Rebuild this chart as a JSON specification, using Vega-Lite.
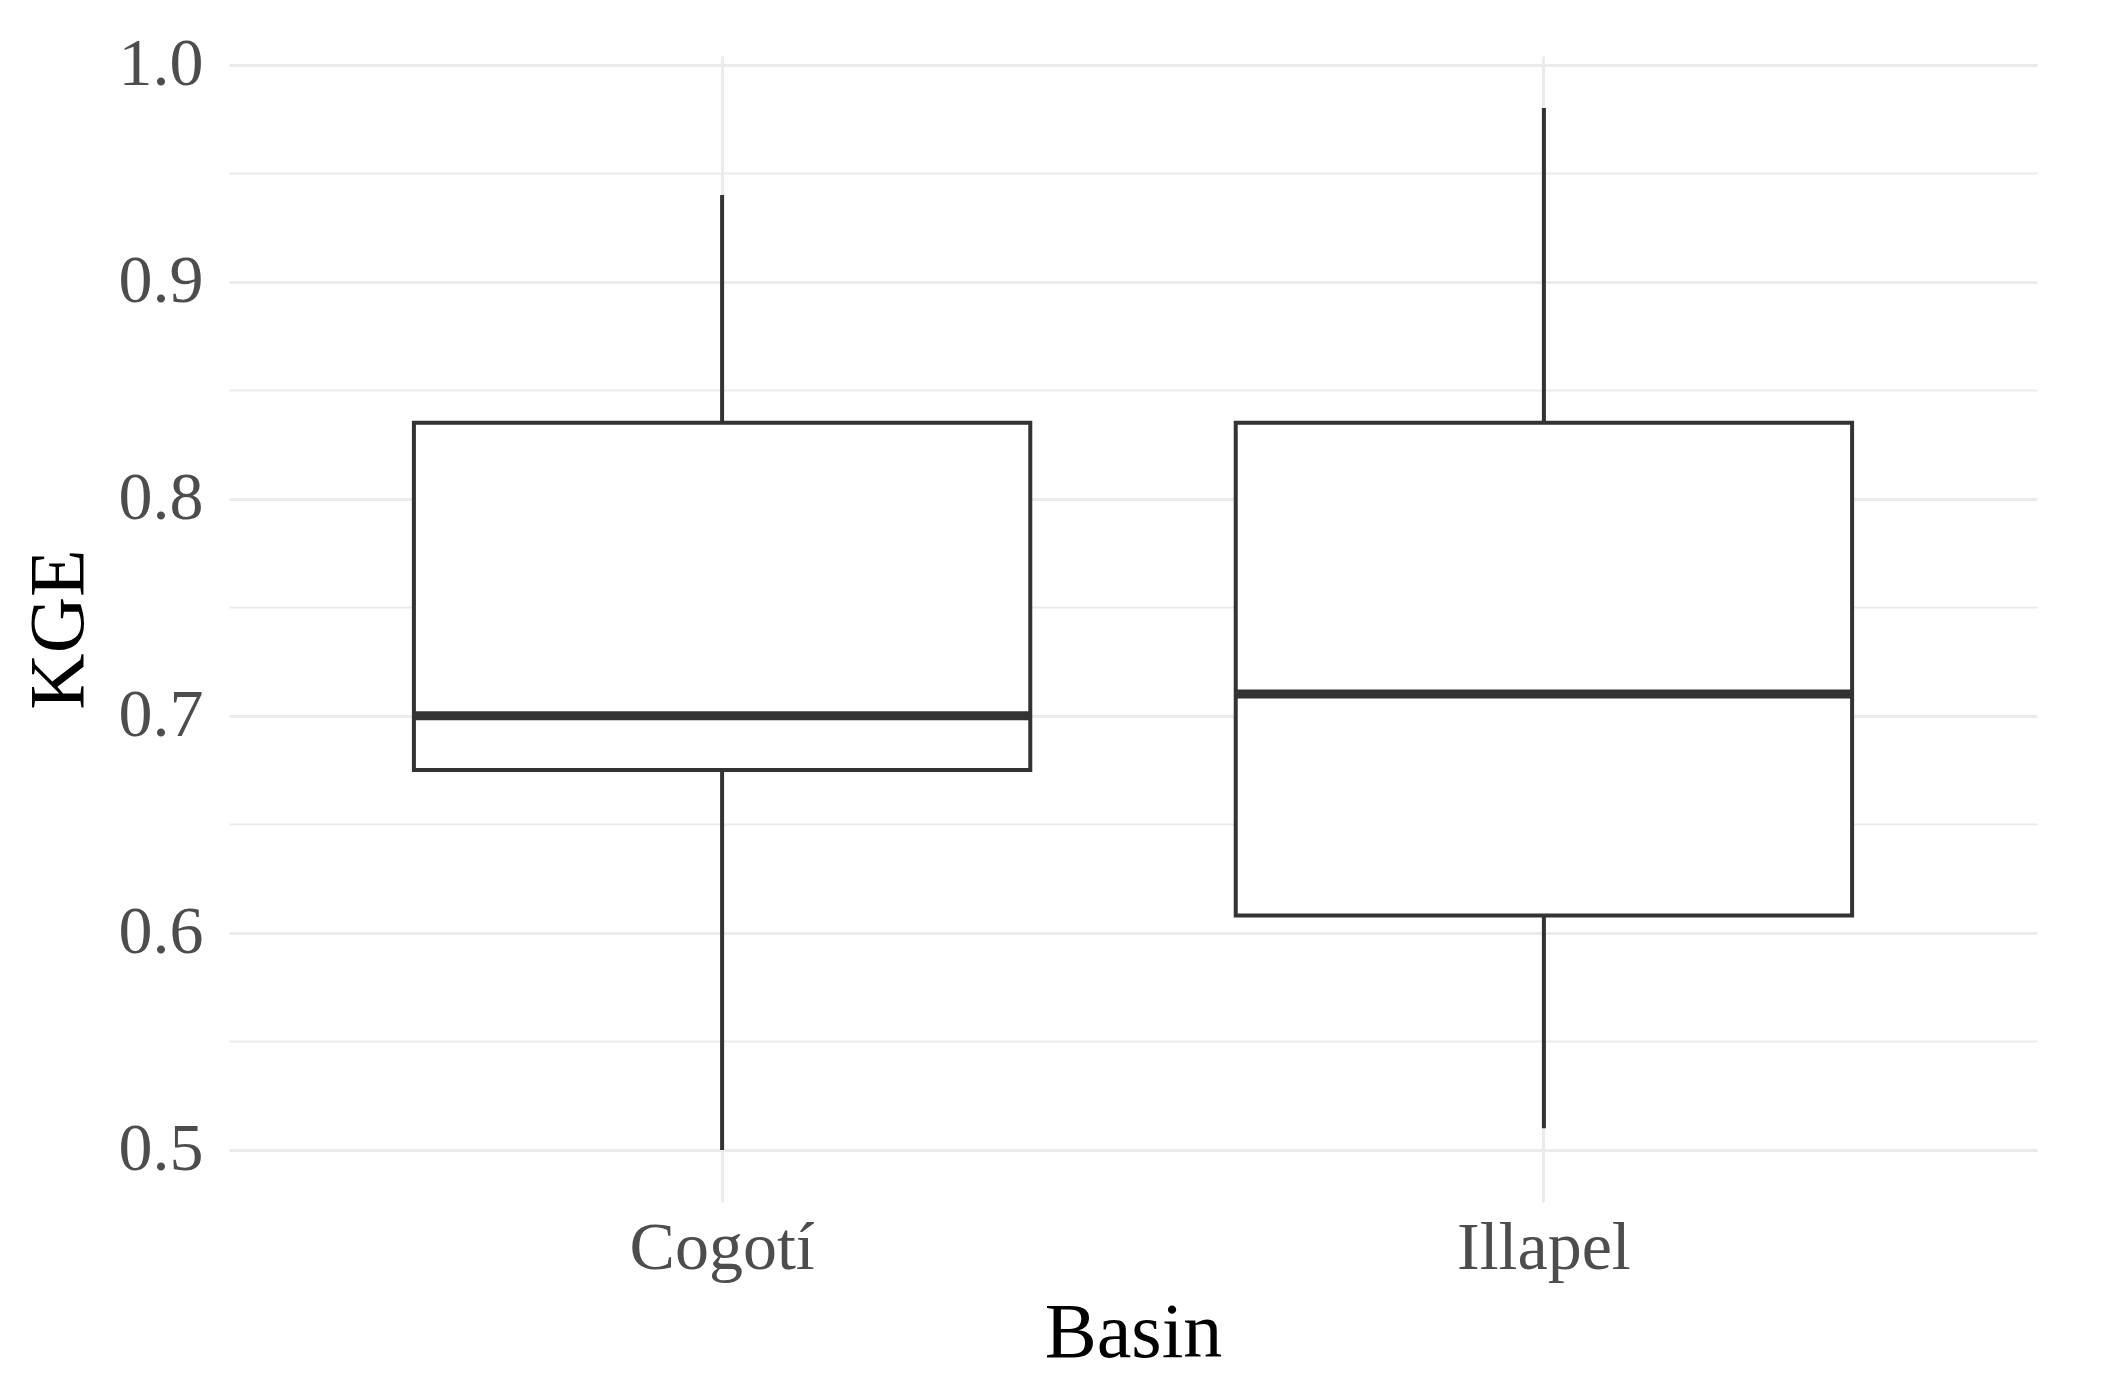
{
  "$schema": "https://vega.github.io/schema/vega-lite/v6.json",
  "autosize": {"type": "none"},
  "width": 1808,
  "height": 1146,
  "padding": {"left": 229, "top": 56, "right": 80, "bottom": 181},
  "background": "white",
  "config": {
    "view": {"stroke": null},
    "font": "Liberation Serif"
  },
  "data": {
    "values": [
      {"Basin": "Cogotí", "lower": 0.5, "q1": 0.675, "median": 0.70, "q3": 0.835, "upper": 0.94},
      {"Basin": "Illapel", "lower": 0.51, "q1": 0.608, "median": 0.71, "q3": 0.835, "upper": 0.98}
    ]
  },
  "encoding": {
    "x": {
      "field": "Basin",
      "type": "nominal",
      "sort": ["Cogotí", "Illapel"],
      "scale": {"type": "band", "paddingInner": 0.25, "paddingOuter": 0.225},
      "axis": {
        "title": "Basin",
        "titleFont": "Liberation Serif",
        "titleFontSize": 78,
        "titleFontWeight": "normal",
        "titleColor": "#000000",
        "titlePadding": 12,
        "labelFont": "Liberation Serif",
        "labelFontSize": 68,
        "labelColor": "#4d4d4d",
        "labelPadding": 12,
        "labelAngle": 0,
        "labelLimit": 0,
        "ticks": false,
        "domain": false,
        "grid": true,
        "gridColor": "#ebebeb",
        "gridWidth": 3,
        "bandPosition": 0.5
      }
    }
  },
  "layer": [
    {
      "mark": {"type": "rule", "color": "#333333", "strokeWidth": 4},
      "encoding": {
        "y": {
          "field": "lower",
          "type": "quantitative",
          "scale": {"domain": [0.476, 1.004], "nice": false, "zero": false},
          "axis": {
            "title": "KGE",
            "titleFont": "Liberation Serif",
            "titleFontSize": 78,
            "titleFontWeight": "normal",
            "titleColor": "#000000",
            "titlePadding": 20,
            "values": [0.5, 0.55, 0.6, 0.65, 0.7, 0.75, 0.8, 0.85, 0.9, 0.95, 1.0],
            "labelExpr": "abs(round(datum.value*10) - datum.value*10) < 0.01 ? format(datum.value, '.1f') : ''",
            "labelFont": "Liberation Serif",
            "labelFontSize": 68,
            "labelColor": "#4d4d4d",
            "labelPadding": 26,
            "ticks": false,
            "domain": false,
            "grid": true,
            "gridColor": "#ebebeb",
            "gridWidth": {"condition": {"test": "abs(round(datum.value*10) - datum.value*10) < 0.01", "value": 3}, "value": 2}
          }
        },
        "y2": {"field": "upper"}
      }
    },
    {
      "mark": {"type": "bar", "fill": "white", "stroke": "#333333", "strokeWidth": 4},
      "encoding": {
        "y": {"field": "q1", "type": "quantitative"},
        "y2": {"field": "q3"}
      }
    },
    {
      "mark": {"type": "tick", "color": "#333333", "thickness": 9, "size": 616, "opacity": 1},
      "encoding": {
        "y": {"field": "median", "type": "quantitative"}
      }
    }
  ]
}
